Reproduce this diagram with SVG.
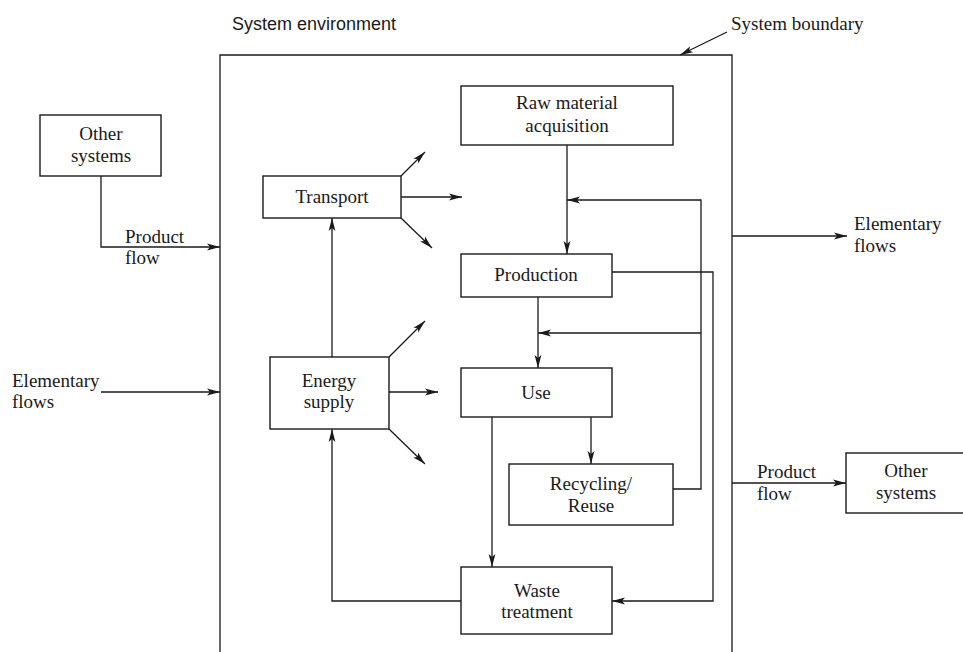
<svg xmlns="http://www.w3.org/2000/svg" width="963" height="652" viewBox="0 0 963 652">
<style>
.box{fill:#fff;stroke:#1a1a1a;stroke-width:1.4}
.ln{fill:none;stroke:#1a1a1a;stroke-width:1.3}
.ar{fill:none;stroke:#1a1a1a;stroke-width:1.3;marker-end:url(#ah)}
.t{font-family:"Liberation Serif","Times New Roman",serif;font-size:19px;fill:#1a1a1a}
.c{text-anchor:middle}
.s{font-family:"Liberation Sans",Arial,sans-serif;font-size:18px;fill:#1a1a1a}
</style>
<defs>
<marker id="ah" markerUnits="userSpaceOnUse" markerWidth="14" markerHeight="10" viewBox="0 0 14 10" refX="13" refY="5" orient="auto">
<path d="M0,1.6 L13,5 L0,8.4 L3,5 Z" fill="#1a1a1a"/>
</marker>
</defs>
<rect width="963" height="652" fill="#fff"/>

<g id="boundary">
<path class="ln" d="M220,660 V55 H732 V660"/>
<text class="s" x="232" y="30">System environment</text>
<text class="t" x="731" y="30">System boundary</text>
</g>

<g id="connectors">
<path class="ar" d="M727,32 L680,55"/>
<path class="ar" d="M101,176 V247 H220"/>
<path class="ar" d="M101,392 H220"/>
<path class="ar" d="M732,236 H847"/>
<path class="ar" d="M732,483 H846"/>
<path class="ar" d="M567,145 V254"/>
<path class="ar" d="M673,489 H701 V200 H567"/>
<path class="ar" d="M701,333 H538"/>
<path class="ar" d="M538,297 V368"/>
<path class="ar" d="M612,272 H713 V601 H612"/>
<path class="ar" d="M591,417 V464"/>
<path class="ar" d="M492,417 V567"/>
<path class="ar" d="M461,601 H332 V429"/>
<path class="ar" d="M332,357 V218"/>
<path class="ar" d="M401,176 L425,152"/>
<path class="ar" d="M401,197 H462"/>
<path class="ar" d="M401,218 L432,248"/>
<path class="ar" d="M389,357 L425,321"/>
<path class="ar" d="M389,392 H438"/>
<path class="ar" d="M389,429 L425,464"/>
</g>

<g id="other-systems-left">
<rect class="box" x="40" y="115" width="121" height="61"/>
<text class="t c" x="101" y="140">Other</text>
<text class="t c" x="101" y="162">systems</text>
</g>
<g id="product-flow-left">
<text class="t" x="125" y="243">Product</text>
<text class="t" x="125" y="264">flow</text>
</g>
<g id="elementary-flows-left">
<text class="t" x="12" y="387">Elementary</text>
<text class="t" x="12" y="408">flows</text>
</g>
<g id="elementary-flows-right">
<text class="t" x="854" y="230">Elementary</text>
<text class="t" x="854" y="252">flows</text>
</g>
<g id="product-flow-right">
<text class="t" x="757" y="478">Product</text>
<text class="t" x="757" y="500">flow</text>
</g>
<g id="other-systems-right">
<rect class="box" x="846" y="453" width="121" height="60"/>
<text class="t c" x="906" y="477">Other</text>
<text class="t c" x="906" y="499">systems</text>
</g>

<g id="raw-material">
<rect class="box" x="461" y="86" width="212" height="59"/>
<text class="t c" x="567" y="109">Raw material</text>
<text class="t c" x="567" y="132">acquisition</text>
</g>
<g id="transport">
<rect class="box" x="263" y="176" width="138" height="42"/>
<text class="t c" x="332" y="203">Transport</text>
</g>
<g id="production">
<rect class="box" x="461" y="254" width="151" height="43"/>
<text class="t c" x="536" y="281">Production</text>
</g>
<g id="energy-supply">
<rect class="box" x="270" y="357" width="119" height="72"/>
<text class="t c" x="329" y="387">Energy</text>
<text class="t c" x="329" y="408">supply</text>
</g>
<g id="use">
<rect class="box" x="461" y="368" width="151" height="49"/>
<text class="t c" x="536" y="399">Use</text>
</g>
<g id="recycling">
<rect class="box" x="509" y="464" width="164" height="61"/>
<text class="t c" x="591" y="490">Recycling/</text>
<text class="t c" x="591" y="512">Reuse</text>
</g>
<g id="waste-treatment">
<rect class="box" x="461" y="567" width="151" height="67"/>
<text class="t c" x="537" y="597">Waste</text>
<text class="t c" x="537" y="618">treatment</text>
</g>
</svg>
